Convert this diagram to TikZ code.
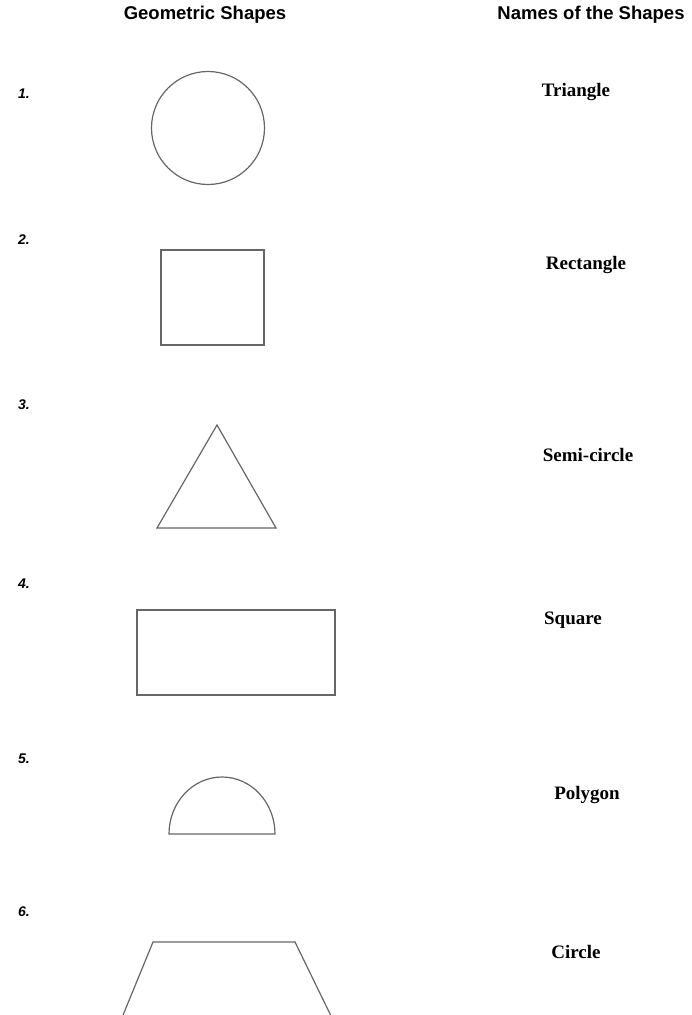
\documentclass[tikz,border=0pt]{standalone}
\usepackage{fontspec}
\setmainfont{Liberation Serif}
\newfontfamily\headfont{Liberation Sans}
\usetikzlibrary{positioning}

\tikzset{
  shapeline/.style={draw=black!60, line width=1.2pt},
  headtext/.style={font=\headfont\bfseries\fontsize{18.5}{20}\selectfont},
  numtext/.style={font=\headfont\bfseries\itshape\fontsize{14}{16}\selectfont},
  nametext/.style={font=\bfseries\fontsize{19}{21}\selectfont}
}

\begin{document}
\begin{tikzpicture}[x=1pt, y=-1pt]
\useasboundingbox (0,0) rectangle (691,1015);

% headings
\node[headtext] (hshapes) at (205,15) {Geometric Shapes};
\node[headtext] (hnames) at (591,15) {Names of the Shapes};

% numbers
\node[numtext] (n1) at (24,94) {1.};
\node[numtext] (n2) at (24,240) {2.};
\node[numtext] (n3) at (24,405) {3.};
\node[numtext] (n4) at (24,584) {4.};
\node[numtext] (n5) at (24,759) {5.};
\node[numtext] (n6) at (24,912) {6.};

% shapes
\draw[shapeline] (208,128) circle (56.5);
\draw[shapeline] (161,250) rectangle (264,345);
\draw[shapeline] (217,425) -- (276,528) -- (157,528) -- cycle;
\draw[shapeline] (137,610) rectangle (335,695);
\draw[shapeline] (169,834) arc[start angle=180, end angle=0, x radius=53, y radius=-57] -- cycle;
\begin{scope}
  \clip (0,0) rectangle (691,1015);
  \draw[shapeline] (121,1020) -- (153,942) -- (295,942) -- (333,1020);
\end{scope}

% names
\node[nametext] (nm1) at (576,92) {Triangle};
\node[nametext] (nm2) at (586,265) {Rectangle};
\node[nametext] (nm3) at (588,455) {Semi-circle};
\node[nametext] (nm4) at (573,620) {Square};
\node[nametext] (nm5) at (587,795) {Polygon};
\node[nametext] (nm6) at (576,952) {Circle};
\end{tikzpicture}
\end{document}
